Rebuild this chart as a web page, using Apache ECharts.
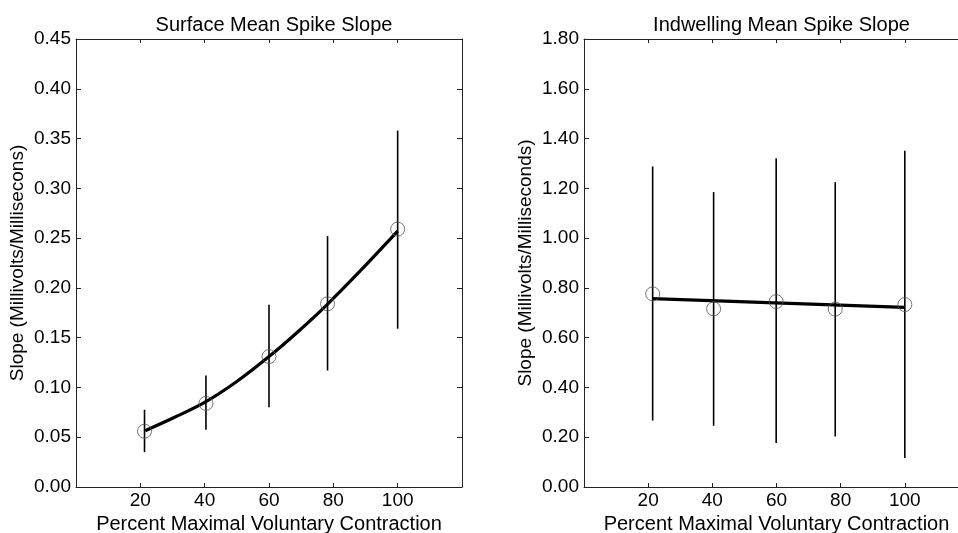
<!DOCTYPE html>
<html>
<head>
<meta charset="utf-8">
<script src="https://cdn.jsdelivr.net/npm/echarts@6/dist/echarts.min.js"></script>
<style>
html,body{margin:0;padding:0;background:#fff;}
#chart{width:958px;height:533px;}
</style>
</head>
<body>
<div id="chart"></div>
<script>
// ---- data ----
var titles = ["Surface Mean Spike Slope", "Indwelling Mean Spike Slope"];
var xAxisName = "Percent Maximal Voluntary Contraction";
var yAxisNames = ["Slope (Millivolts/Millisecons)", "Slope (Millivolts/Milliseconds)"];

var surfaceX = [21.3, 40.4, 60.0, 78.2, 100.0];
var surfaceMean = [0.056, 0.084, 0.131, 0.184, 0.259];
var surfaceLow = [0.035, 0.0575, 0.080, 0.117, 0.159];
var surfaceHigh = [0.0776, 0.112, 0.183, 0.252, 0.358];
var surfaceFitX = [21.5, 31, 40, 50, 60, 69, 78, 88.5, 100];
var surfaceFitY = [0.0565, 0.0705, 0.085, 0.106, 0.131, 0.156, 0.183, 0.2175, 0.257];

var indwellX = [21.4, 40.4, 59.9, 78.3, 100.0];
var indwellMean = [0.776, 0.716, 0.745, 0.715, 0.733];
var indwellLow = [0.267, 0.246, 0.177, 0.203, 0.117];
var indwellHigh = [1.288, 1.185, 1.321, 1.225, 1.351];
var indwellFitX = [21.4, 100];
var indwellFitY = [0.757, 0.722];

var yMax = [0.45, 1.80];
var yStep = [0.05, 0.20];

// ---- helpers ----
function pairs(xs, ys) { return xs.map(function (x, i) { return [x, ys[i]]; }); }
function bars(xs, lo, hi) { return xs.map(function (x, i) { return [x, lo[i], hi[i]]; }); }

var FONT = "Liberation Sans, Arial, Helvetica, sans-serif";
var AX = '#222';

var grids = [
  { left: 76, top: 39, width: 386, height: 448, outerBoundsMode: 'none', containLabel: false },
  { left: 584, top: 39, width: 385, height: 448, outerBoundsMode: 'none', containLabel: false }
];

var xAxes = [], yAxes = [], series = [], titleArr = [];
for (var g = 0; g < 2; g++) {
  titleArr.push({
    text: titles[g],
    left: grids[g].left + grids[g].width / 2,
    textAlign: 'center',
    top: 10,
    textStyle: { fontFamily: FONT, fontSize: 20, fontWeight: 'normal', color: '#000' }
  });
  xAxes.push({
    gridIndex: g, type: 'value', min: 0, max: 120, interval: 20, position: 'bottom',
    name: xAxisName, nameLocation: 'middle', nameGap: 24,
    nameTextStyle: { fontFamily: FONT, fontSize: 20, color: '#000' },
    axisLine: { show: true, onZero: false, lineStyle: { color: AX, width: 1 } },
    axisTick: { show: true, inside: true, length: 4, lineStyle: { color: AX } },
    axisLabel: { fontFamily: FONT, fontSize: 19, color: '#000', margin: 4,
      formatter: function (v) { return (v === 0 || v === 120) ? '' : String(v); } },
    splitLine: { show: false }
  });
  xAxes.push({
    gridIndex: g, type: 'value', min: 0, max: 120, interval: 20, position: 'top',
    axisLine: { show: true, onZero: false, lineStyle: { color: AX, width: 1 } },
    axisTick: { show: true, inside: true, length: 4, lineStyle: { color: AX } },
    axisLabel: { show: false }, splitLine: { show: false }
  });
  yAxes.push({
    gridIndex: g, type: 'value', min: 0, max: yMax[g], interval: yStep[g], position: 'left',
    name: yAxisNames[g], nameLocation: 'middle', nameGap: 49, nameRotate: 90,
    nameTextStyle: { fontFamily: FONT, fontSize: 19, color: '#000' },
    axisLine: { show: true, onZero: false, lineStyle: { color: AX, width: 1 } },
    axisTick: { show: true, inside: true, length: 5, lineStyle: { color: AX } },
    axisLabel: { fontFamily: FONT, fontSize: 19, color: '#000', margin: 5,
      formatter: function (v) { return v.toFixed(2); } },
    splitLine: { show: false }
  });
  yAxes.push({
    gridIndex: g, type: 'value', min: 0, max: yMax[g], interval: yStep[g], position: 'right',
    axisLine: { show: true, onZero: false, lineStyle: { color: AX, width: 1 } },
    axisTick: { show: true, inside: true, length: 5, lineStyle: { color: AX } },
    axisLabel: { show: false }, splitLine: { show: false }
  });
}

var sets = [
  { x: surfaceX, m: surfaceMean, lo: surfaceLow, hi: surfaceHigh, fx: surfaceFitX, fy: surfaceFitY },
  { x: indwellX, m: indwellMean, lo: indwellLow, hi: indwellHigh, fx: indwellFitX, fy: indwellFitY }
];

sets.forEach(function (s, g) {
  var xi = g * 2, yi = g * 2;
  series.push({
    type: 'custom', xAxisIndex: xi, yAxisIndex: yi,
    data: bars(s.x, s.lo, s.hi),
    renderItem: function (params, api) {
      var p1 = api.coord([api.value(0), api.value(1)]);
      var p2 = api.coord([api.value(0), api.value(2)]);
      return { type: 'line', shape: { x1: p1[0], y1: p1[1], x2: p2[0], y2: p2[1] },
        style: { stroke: '#000', lineWidth: 1.6 } };
    },
    silent: true, z: 2
  });
  series.push({
    type: 'line', xAxisIndex: xi, yAxisIndex: yi,
    data: pairs(s.fx, s.fy), smooth: g === 0 ? 0.3 : false,
    showSymbol: false, symbol: 'none',
    lineStyle: { color: '#000', width: 3.2 }, silent: true, z: 3
  });
  series.push({
    type: 'scatter', xAxisIndex: xi, yAxisIndex: yi,
    data: pairs(s.x, s.m), symbol: 'circle', symbolSize: 14,
    itemStyle: { color: 'rgba(0,0,0,0)', borderColor: '#555', borderWidth: 1 },
    silent: true, z: 4
  });
});

var chart = echarts.init(document.getElementById('chart'), null, { renderer: 'canvas' });
chart.setOption({
  animation: false,
  backgroundColor: '#fff',
  title: titleArr,
  grid: grids,
  xAxis: xAxes,
  yAxis: yAxes,
  series: series
});
</script>
</body>
</html>
